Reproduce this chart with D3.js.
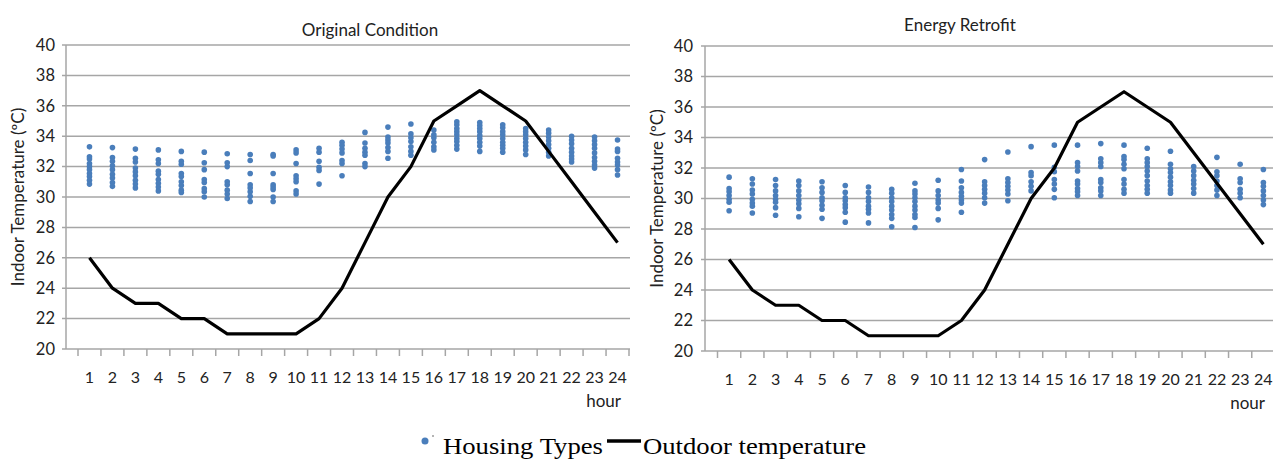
<!DOCTYPE html>
<html>
<head>
<meta charset="utf-8">
<script src="https://cdn.jsdelivr.net/npm/d3@7"></script>
<style>
  body { margin: 0; background: #fff; }
  svg text { font-family: Lato, "Open Sans", sans-serif; fill: #222; }
</style>
</head>
<body>
<div id="chart"></div>
<script>
// hours of the day
var hours = d3.range(1, 25);

// outdoor temperature (same in both panels)
var outdoor = [26, 24, 23, 23, 22, 22, 21, 21, 21, 21, 22, 24, 27, 30, 32, 35, 36, 37, 36, 35, 33, 31, 29, 27];

// indoor temperatures of the housing types, one list per hour
var original = [
  [33.3, 32.65, 32.5, 32.2, 32.0, 31.8, 31.55, 31.35, 31.1, 30.85],
  [33.25, 32.6, 32.35, 32.05, 31.8, 31.5, 31.25, 30.95, 30.7],
  [33.15, 32.55, 32.3, 31.9, 31.65, 31.4, 31.1, 30.85, 30.6],
  [33.1, 32.45, 32.2, 31.7, 31.5, 31.15, 30.9, 30.65, 30.4],
  [33.0, 32.35, 32.15, 31.55, 31.35, 31.0, 30.75, 30.45, 30.3],
  [32.95, 32.25, 31.8, 31.15, 30.95, 30.55, 30.35, 30.0],
  [32.85, 32.25, 32.0, 31.0, 30.8, 30.45, 30.2, 29.9],
  [32.8, 32.4, 31.55, 30.8, 30.6, 30.35, 30.05, 29.7],
  [32.8, 32.7, 31.55, 30.8, 30.65, 30.5, 30.0, 29.7],
  [33.1, 32.9, 32.2, 31.4, 31.2, 31.0, 30.4, 30.2],
  [33.2, 32.95, 32.35, 31.95, 31.75, 30.85],
  [33.6, 33.4, 33.15, 32.9, 32.4, 32.2, 31.4],
  [34.25, 33.55, 33.2, 32.95, 32.75, 32.2, 32.0],
  [34.6, 33.95, 33.75, 33.55, 33.25, 33.0, 32.55],
  [34.8, 34.15, 33.9, 33.65, 33.3, 33.0, 32.75],
  [34.4, 34.1, 33.9, 33.6, 33.3, 33.1],
  [34.95, 34.75, 34.5, 34.3, 34.1, 33.85, 33.65, 33.4, 33.15],
  [34.9, 34.7, 34.5, 34.3, 34.05, 33.85, 33.6, 33.35, 33.0],
  [34.75, 34.55, 34.3, 34.1, 33.85, 33.6, 33.4, 33.2, 32.95],
  [34.5, 34.3, 34.1, 33.85, 33.6, 33.35, 33.1, 32.8],
  [34.4, 34.2, 33.95, 33.7, 33.45, 33.2, 32.95, 32.7],
  [34.0, 33.75, 33.5, 33.2, 32.95, 32.7, 32.5, 32.3],
  [33.95, 33.7, 33.45, 33.2, 32.9, 32.6, 32.35, 32.1, 31.9],
  [33.75, 33.15, 33.0, 32.55, 32.3, 32.1, 31.8, 31.45]
];

var retrofit = [
  [31.4, 30.65, 30.45, 30.2, 29.95, 29.75, 29.2],
  [31.3, 30.95, 30.55, 30.3, 29.95, 29.7, 29.5, 29.05],
  [31.25, 30.85, 30.5, 30.2, 29.95, 29.75, 29.4, 28.9],
  [31.15, 30.85, 30.5, 30.2, 29.9, 29.65, 29.35, 28.8],
  [31.1, 30.7, 30.4, 30.05, 29.85, 29.55, 29.3, 28.7],
  [30.85, 30.4, 30.05, 29.85, 29.6, 29.4, 29.1, 28.45],
  [30.75, 30.4, 30.05, 29.8, 29.5, 29.3, 29.05, 28.4],
  [30.6, 30.35, 30.05, 29.8, 29.5, 29.25, 28.95, 28.7, 28.15],
  [31.0, 30.5, 30.3, 30.05, 29.8, 29.5, 29.25, 28.95, 28.75, 28.1],
  [31.2, 30.5, 30.2, 29.9, 29.7, 29.35, 28.6],
  [31.9, 31.15, 30.7, 30.4, 30.15, 29.9, 29.7, 29.1],
  [32.55, 31.1, 30.85, 30.6, 30.35, 30.05, 29.7],
  [33.05, 31.3, 31.05, 30.8, 30.55, 30.3, 29.85],
  [33.4, 31.7, 31.5, 31.1, 30.8, 30.5],
  [33.5, 32.05, 31.75, 31.25, 30.95, 30.6, 30.05],
  [33.5, 32.35, 32.1, 31.8, 31.15, 30.95, 30.65, 30.45, 30.2],
  [33.6, 32.6, 32.35, 32.1, 31.25, 31.05, 30.7, 30.5, 30.2],
  [33.5, 32.75, 32.55, 32.25, 31.95, 31.25, 30.95, 30.6, 30.35],
  [33.3, 32.6, 32.35, 32.1, 31.8, 31.5, 31.15, 30.85, 30.6, 30.35],
  [33.1, 32.25, 31.95, 31.7, 31.4, 31.1, 30.85, 30.55, 30.35],
  [32.1, 31.8, 31.5, 31.2, 30.95, 30.65, 30.35],
  [32.7, 31.75, 31.5, 31.15, 30.85, 30.55, 30.2],
  [32.25, 31.3, 31.05, 30.6, 30.35, 30.05],
  [31.9, 31.05, 30.8, 30.5, 30.2, 29.9, 29.6]
];

var yTicks = [20, 22, 24, 26, 28, 30, 32, 34, 36, 38, 40];
var blue = "#4a7ebb";

var svg = d3.select("#chart")
  .append("svg")
    .attr("width", 1273)
    .attr("height", 459);

// one panel
function panel(opt) {
  var x = d3.scaleLinear()
    .domain([0.5, 24.5])
    .range([opt.x0, opt.x1]);
  var y = d3.scaleLinear()
    .domain([20, 40])
    .range([opt.yBottom, opt.yTop]);

  var g = svg.append("g");

  // gridlines
  g.append("g")
    .selectAll("line")
    .data(yTicks)
    .enter()
    .append("line")
      .attr("x1", opt.axisX - 4)
      .attr("x2", opt.gridEnd)
      .attr("y1", d => y(d))
      .attr("y2", d => y(d))
      .style("stroke", "#a6a6a6")
      .style("stroke-width", 1.5);

  // y axis
  var yAxis = g.append("g")
    .attr("transform", "translate(" + opt.axisX + ",0)")
    .call(d3.axisLeft(y).tickValues(yTicks).tickSize(0).tickPadding(opt.labelPad));
  yAxis.select(".domain").remove();
  yAxis.append("line")
    .attr("y1", y(40)).attr("y2", y(20))
    .style("stroke", "#a6a6a6").style("stroke-width", 1.5);
  yAxis.selectAll("text")
    .style("font-size", "16.5px")
    .style("font-family", "Lato, sans-serif")
    .style("fill", "#222");

  // x axis (category boundaries)
  var xAxis = g.append("g")
    .attr("transform", "translate(0," + y(20) + ")");
  xAxis.selectAll("line")
    .data(d3.range(0.5, 25, 1))
    .enter()
    .append("line")
      .attr("x1", d => x(d)).attr("x2", d => x(d))
      .attr("y1", 0).attr("y2", 7)
      .style("stroke", "#a6a6a6").style("stroke-width", 1.5);
  xAxis.selectAll("text")
    .data(hours)
    .enter()
    .append("text")
      .attr("x", d => x(d))
      .attr("y", 34)
      .attr("text-anchor", "middle")
      .style("font-size", "16px")
      .text(d => d);

  // housing type dots
  var pts = [];
  opt.data.forEach(function(vals, i) {
    vals.forEach(function(v) { pts.push({h: hours[i], v: v}); });
  });
  g.append("g")
    .selectAll("circle")
    .data(pts)
    .enter()
    .append("circle")
      .attr("cx", d => x(d.h))
      .attr("cy", d => y(d.v))
      .attr("r", 2.8)
      .style("fill", blue);

  // outdoor temperature
  var line = d3.line()
    .x((d, i) => x(hours[i]))
    .y(d => y(d));
  g.append("path")
    .datum(outdoor)
    .attr("d", line)
    .style("fill", "none")
    .style("stroke", "#000")
    .style("stroke-width", 3.2)
    .style("stroke-linejoin", "round");

  // labels
  g.append("text")
    .attr("x", opt.titleX)
    .attr("y", opt.titleY)
    .attr("text-anchor", "middle")
    .style("font-size", "17px")
    .text(opt.title);
  g.append("text")
    .attr("transform", "translate(" + opt.yLabelX + "," + y(30) + ") rotate(-90)")
    .attr("text-anchor", "middle")
    .style("font-size", "17px")
    .text("Indoor Temperature (ºC)");
  g.append("text")
    .attr("x", opt.hourX)
    .attr("y", y(20) + 58)
    .attr("text-anchor", "end")
    .style("font-size", "17px")
    .text(opt.hourText);
}

panel({
  data: original, title: "Original Condition",
  x0: 78, x1: 629, axisX: 66, gridEnd: 630, yTop: 45, yBottom: 349,
  labelPad: 11, titleX: 370, titleY: 36, yLabelX: 24, hourX: 621, hourText: "hour"
});

panel({
  data: retrofit, title: "Energy Retrofit",
  x0: 717.5, x1: 1275, axisX: 705, gridEnd: 1273, yTop: 46, yBottom: 351,
  labelPad: 12, titleX: 960, titleY: 31, yLabelX: 663, hourX: 1265, hourText: "nour"
});

// legend
var legend = svg.append("g");
legend.append("circle")
  .attr("cx", 425).attr("cy", 441).attr("r", 3.5)
  .style("fill", blue);
legend.append("circle")
  .attr("cx", 433).attr("cy", 436).attr("r", 0.8)
  .style("fill", "#555");
legend.append("text")
  .attr("x", 443).attr("y", 454)
  .attr("textLength", 160)
  .attr("lengthAdjust", "spacingAndGlyphs")
  .style("font-family", "'Liberation Serif', 'Times New Roman', serif")
  .style("font-size", "23px")
  .style("fill", "#000")
  .text("Housing Types");
legend.append("line")
  .attr("x1", 607).attr("x2", 641)
  .attr("y1", 441).attr("y2", 441)
  .style("stroke", "#000").style("stroke-width", 3.5);
legend.append("text")
  .attr("x", 643).attr("y", 454)
  .attr("textLength", 223)
  .attr("lengthAdjust", "spacingAndGlyphs")
  .style("font-family", "'Liberation Serif', 'Times New Roman', serif")
  .style("font-size", "23px")
  .style("fill", "#000")
  .text("Outdoor temperature");
</script>
</body>
</html>
